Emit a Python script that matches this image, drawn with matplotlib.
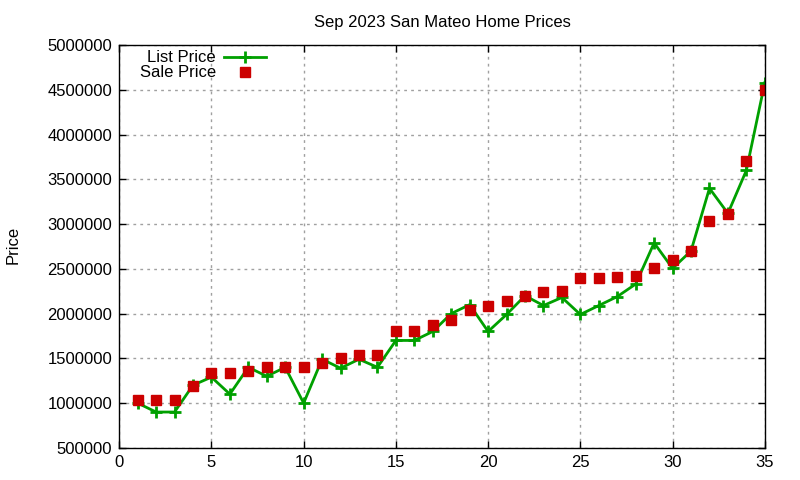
import numpy as np
import matplotlib
matplotlib.use('Agg')
import matplotlib.pyplot as plt

plt.rcParams['font.family'] = ['Liberation Sans', 'DejaVu Sans']

# home index 1..35
homes = list(range(1, 36))

list_price = [1000000, 900000, 900000, 1200000, 1290000, 1100000, 1400000, 1300000, 1400000, 1000000,
              1490000, 1390000, 1490000, 1400000, 1700000, 1700000, 1800000, 2000000, 2100000, 1800000,
              1990000, 2200000, 2090000, 2180000, 1990000, 2090000, 2190000, 2330000, 2790000, 2505000,
              2700000, 3400000, 3120000, 3600000, 4580000]

sale_price = [1040000, 1040000, 1040000, 1190000, 1340000, 1340000, 1360000, 1400000, 1400000, 1400000,
              1450000, 1500000, 1540000, 1540000, 1800000, 1810000, 1876000, 1930000, 2040000, 2080000,
              2140000, 2200000, 2245000, 2255000, 2400000, 2400000, 2410000, 2420000, 2510000, 2600000,
              2700000, 3030000, 3115000, 3700000, 4500000]

x_ticks = [0, 5, 10, 15, 20, 25, 30, 35]
y_ticks = [500000, 1000000, 1500000, 2000000, 2500000, 3000000, 3500000, 4000000, 4500000, 5000000]

fig = plt.figure(figsize=(8, 4.8), dpi=100)
ax = fig.add_axes([0.149, 0.067, 0.807, 0.839])

ax.plot(homes, list_price, color='#00a000', lw=2, marker='+', markersize=9,
        markeredgewidth=2, label='List Price')
ax.plot(homes, sale_price, color='#cc0000', lw=0, marker='s', markersize=6.5,
        label='Sale Price')

ax.set_xlim(0, 35)
ax.set_ylim(500000, 5000000)
ax.set_xticks(x_ticks)
ax.set_yticks(y_ticks)
ax.set_yticklabels([str(v) for v in y_ticks])
ax.tick_params(direction='in', top=True, right=True, labelsize=12, length=5, width=1, pad=5)
ax.grid(True, color='#a0a0a0', linestyle=(0, (2, 3)), lw=1)
for s in ax.spines.values():
    s.set_linewidth(1)

ax.set_title('Sep 2023 San Mateo Home Prices', fontsize=12, pad=13)
fig.text(0.016, 0.49, 'Price', rotation=90, va='center', ha='center', fontsize=12)

ax.legend(loc='upper right', bbox_to_anchor=(0.248, 1.02), frameon=False, markerfirst=False,
          fontsize=12, handlelength=2.5, handletextpad=0.5, labelspacing=0.0, borderpad=0.3)

fig.savefig('out.png', dpi=100)
